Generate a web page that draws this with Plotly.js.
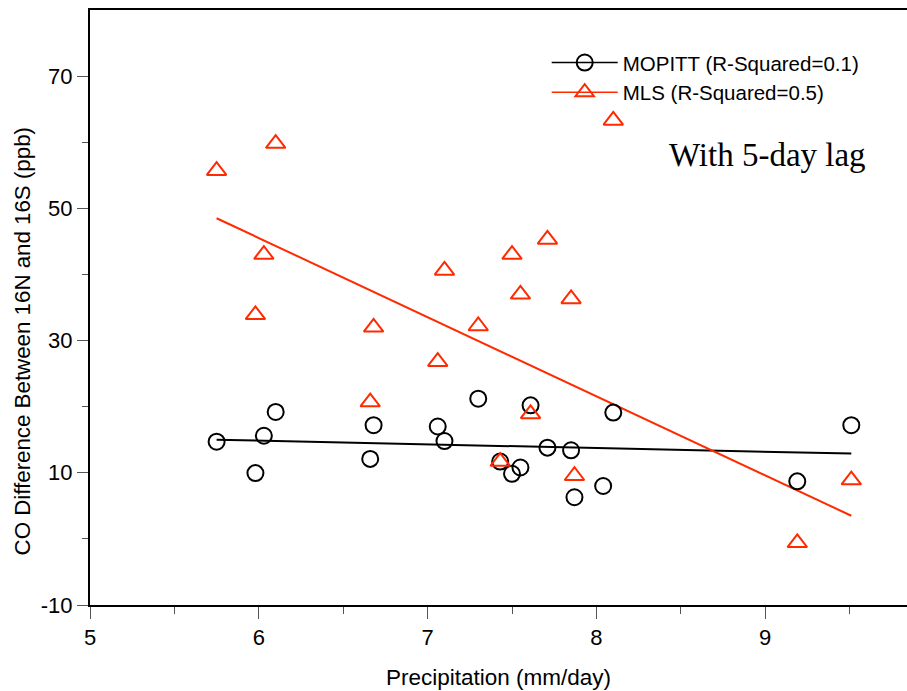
<!DOCTYPE html>
<html>
<head>
<meta charset="utf-8">
<script src="https://cdn.plot.ly/plotly-3.0.1.min.js"></script>
<style>html,body{margin:0;padding:0;background:#fff;}#chart{width:907px;height:691px;}</style>
</head>
<body>
<div id="chart"></div>
<script>
// Precipitation (mm/day) for each sample
var precip = [5.75, 5.98, 6.03, 6.10, 6.66, 6.68, 7.06, 7.10, 7.30, 7.43, 7.50, 7.55, 7.61, 7.71, 7.85, 7.87, 8.04, 8.10, 9.19, 9.51];
// CO difference between 16N and 16S (ppb)
var mopitt = [14.7, 9.95, 15.6, 19.2, 12.1, 17.2, 17.0, 14.8, 21.2, 11.7, 9.85, 10.8, 20.2, 13.8, 13.4, 6.3, 8.0, 19.1, 8.7, 17.2];
var mls = [55.7, 33.9, 43.0, 59.8, 20.7, 32.0, 26.8, 40.6, 32.2, 11.7, 43.0, 37.0, 18.9, 45.3, 36.3, 9.55, null, 63.3, -0.6, 8.9];
// Linear fit lines (end points)
var fitX = [5.75, 9.51];
var mopittFit = [15.0, 12.9];
var mlsFit = [48.5, 3.5];
// Labels
var mopittLabel = 'MOPITT (R-Squared=0.1)';
var mlsLabel = 'MLS (R-Squared=0.5)';
var xTitle = 'Precipitation (mm/day)';
var yTitle = 'CO Difference Between 16N and 16S (ppb)';
var noteText = 'With 5-day lag';
var yTicks = [-10, 10, 30, 50, 70];
var xTicks = [5, 6, 7, 8, 9];

var red = '#ff2a00';
var font = 'Liberation Sans, Arial, Helvetica, sans-serif';

var traces = [
  {x: fitX, y: mopittFit, mode: 'lines', line: {color: '#000', width: 2}, showlegend: false, hoverinfo: 'skip'},
  {x: fitX, y: mlsFit, mode: 'lines', line: {color: red, width: 2}, showlegend: false, hoverinfo: 'skip'},
  {x: precip, y: mopitt, mode: 'markers', showlegend: false,
   marker: {symbol: 'circle-open', size: 16, color: '#000', line: {width: 2, color: '#000'}}},
  {x: precip, y: mls, mode: 'markers', showlegend: false,
   marker: {symbol: 'triangle-up-open', size: 17, color: red, line: {width: 2, color: red}}},
  {x: [null], y: [null], mode: 'lines+markers', name: mopittLabel,
   line: {color: '#000', width: 1.5},
   marker: {symbol: 'circle-open', size: 16, color: '#000', line: {width: 2, color: '#000'}}},
  {x: [null], y: [null], mode: 'lines+markers', name: mlsLabel,
   line: {color: red, width: 1.5},
   marker: {symbol: 'triangle-up-open', size: 17, color: red, line: {width: 2, color: red}}}
];

var layout = {
  width: 907, height: 691,
  margin: {l: 90, r: 0, t: 10, b: 86},
  paper_bgcolor: '#fff', plot_bgcolor: '#fff',
  font: {family: font, size: 21, color: '#000'},
  showlegend: true,
  legend: {x: 0.559, y: 0.945, xanchor: 'left', yanchor: 'top', bgcolor: 'rgba(0,0,0,0)',
           itemwidth: 66,
           font: {family: font, size: 20.5, color: '#000'}, tracegroupgap: 0},
  xaxis: {
    range: [5, 9.84], tickvals: xTicks, ticktext: xTicks.map(String),
    showgrid: false, zeroline: false, showline: true, linecolor: '#000', linewidth: 2,
    mirror: true, ticks: 'outside', ticklen: 12, tickwidth: 1, tickcolor: '#555',
    minor: {dtick: 0.5, ticks: 'outside', ticklen: 7, tickcolor: '#555', showgrid: false},
    tickfont: {family: font, size: 22},
    title: {text: xTitle, font: {family: font, size: 22.5}, standoff: 20}
  },
  yaxis: {
    range: [-10, 80], tickvals: yTicks, ticktext: yTicks.map(String),
    showgrid: false, zeroline: false, showline: true, linecolor: '#000', linewidth: 2,
    ticks: 'outside', ticklen: 11, tickwidth: 1, tickcolor: '#555',
    minor: {tickvals: [0, 20, 40, 60], ticks: 'outside', ticklen: 6, tickcolor: '#555', showgrid: false},
    tickfont: {family: font, size: 22}
  },
  annotations: [{
    xref: 'paper', yref: 'paper', x: 0.829, y: 0.756, xanchor: 'center', yanchor: 'middle',
    text: noteText, showarrow: false,
    font: {family: 'Liberation Serif, Times New Roman, serif', size: 33, color: '#000'}
  }, {
    xref: 'paper', yref: 'paper', x: -0.0832, y: 0.443, xanchor: 'center', yanchor: 'middle',
    text: yTitle, showarrow: false, textangle: -90,
    font: {family: font, size: 22.3, color: '#000'}
  }]
};

Plotly.newPlot('chart', traces, layout, {displayModeBar: false, staticPlot: true});
</script>
</body>
</html>
